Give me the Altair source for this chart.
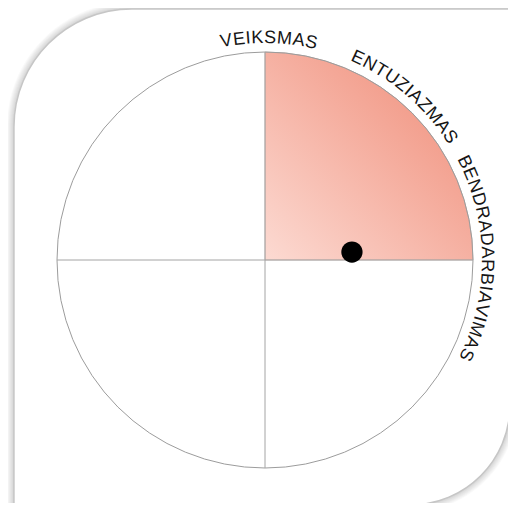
import math
import altair as alt
import pandas as pd

# ---- data ----
LABELS = ["VEIKSMAS", "ENTUZIAZMAS", "BENDRADARBIAVIMAS"]
LABEL_CENTER_DEG = [1.0, 40.5, 89.5]      # angular centre of each curved label
QUADRANT_START = [0]                      # filled sector (degrees, clockwise from north)
QUADRANT_END = [90]
CIRCLE_RADIUS = [100]
DOT_X = [41.8]
DOT_Y = [3.8]

# ---- geometry / style constants ----
W, H = 500, 495
PX = 2.08                 # pixels per unit
CX_PX, CY_PX = 257, 252   # circle centre inside the canvas
X_DOMAIN = [-CX_PX / PX, (W - CX_PX) / PX]
Y_DOMAIN = [-(H - CY_PX) / PX, CY_PX / PX]
TEXT_R_PX = 217
FONT_SIZE = 18
TRACK = 0.5
EM = {"A": .667, "B": .667, "D": .722, "E": .667, "I": .278, "K": .667,
      "M": .833, "N": .722, "R": .722, "S": .667, "T": .611, "U": .722,
      "V": .667, "Z": .611}

xs = alt.Scale(domain=X_DOMAIN, nice=False, zero=False)
ys = alt.Scale(domain=Y_DOMAIN, nice=False, zero=False)
ts = alt.Scale(domain=[0, 360], range=[0, 2 * math.pi], zero=True, nice=False)
rs = alt.Scale(type="linear", domain=[0, 100], range=[0, 100 * PX], zero=True, nice=False)

X = lambda f: alt.X(f, type="quantitative", scale=xs, axis=None)
Y = lambda f: alt.Y(f, type="quantitative", scale=ys, axis=None)

# ---- card with shadow ----
card = dict(x=-120.7, x2=117.8, y=120.7, y2=-117.8)
layers = []
for d in range(1, 8):
    u = d / PX
    sdf = pd.DataFrame([dict(x=card["x"] - u, x2=card["x2"] + u,
                             y=card["y"] + u, y2=card["y2"] - u)])
    layers.append(
        alt.Chart(sdf).mark_rect(color="#000000", opacity=0.022,
                                 cornerRadiusTopLeft=118 + d,
                                 cornerRadiusBottomRight=100 + d)
        .encode(x=X("x"), x2="x2", y=Y("y"), y2="y2")
    )
cdf = pd.DataFrame([card])
layers.append(
    alt.Chart(cdf).mark_rect(color="#ffffff", stroke="#c6c6c6", strokeWidth=1.5,
                             cornerRadiusTopLeft=118, cornerRadiusBottomRight=100)
    .encode(x=X("x"), x2="x2", y=Y("y"), y2="y2")
)

# ---- filled quadrant ----
qdf = pd.DataFrame({"cx": [0], "cy": [0], "t0": QUADRANT_START, "t1": QUADRANT_END,
                    "r0": [0], "r1": CIRCLE_RADIUS})
grad = {"gradient": "linear", "x1": 0, "y1": 1, "x2": 1, "y2": 0,
        "stops": [{"offset": 0, "color": "#fcdad2"},
                  {"offset": 1, "color": "#ef8873"}]}
layers.append(
    alt.Chart(qdf).mark_arc(fill=grad, stroke="#b9a29c", strokeWidth=0.6)
    .encode(x=X("cx"), y=Y("cy"),
            theta=alt.Theta("t0:Q", scale=ts, stack=None), theta2="t1",
            radius=alt.Radius("r1:Q", scale=rs), radius2="r0")
)

# ---- circle outline ----
odf = pd.DataFrame({"cx": [0], "cy": [0], "t0": [0], "t1": [360],
                    "r0": [0], "r1": CIRCLE_RADIUS})
layers.append(
    alt.Chart(odf).mark_arc(fill="transparent", stroke="#9c9c9c", strokeWidth=1)
    .encode(x=X("cx"), y=Y("cy"),
            theta=alt.Theta("t0:Q", scale=ts, stack=None), theta2="t1",
            radius=alt.Radius("r1:Q", scale=rs), radius2="r0")
)

# ---- quadrant lines ----
R = CIRCLE_RADIUS[0]
ldf = pd.DataFrame({"x": [-R, 0], "x2": [R, 0], "y": [0, -R], "y2": [0, R]})
layers.append(
    alt.Chart(ldf).mark_rule(color="#a4a4a4", strokeWidth=1)
    .encode(x=X("x"), x2="x2", y=Y("y"), y2="y2")
)

# ---- curved labels (one text mark per character) ----
rows = []
for lab, cdeg in zip(LABELS, LABEL_CENTER_DEG):
    widths = [EM[c] * FONT_SIZE for c in lab]
    total = sum(widths) + TRACK * (len(lab) - 1)
    start = math.radians(cdeg) - total / (2 * TEXT_R_PX)
    cum = 0.0
    for c, w in zip(lab, widths):
        a = start + (cum + w / 2) / TEXT_R_PX
        deg = math.degrees(a)
        rows.append({"ch": c, "cx": 0, "cy": 0, "t": deg, "ang": deg % 360,
                     "r": TEXT_R_PX / PX})
        cum += w + TRACK
tdf = pd.DataFrame(rows)
layers.append(
    alt.Chart(tdf).mark_text(font="Liberation Sans", fontSize=FONT_SIZE,
                             color="#151515", align="center", baseline="alphabetic")
    .encode(x=X("cx"), y=Y("cy"),
            theta=alt.Theta("t:Q", scale=ts, stack=None),
            radius=alt.Radius("r:Q", scale=rs),
            angle=alt.Angle("ang:Q", scale=None),
            text="ch:N")
)

# ---- dot ----
ddf = pd.DataFrame({"x": DOT_X, "y": DOT_Y})
layers.append(
    alt.Chart(ddf).mark_circle(color="#000000", opacity=1, size=452)
    .encode(x=X("x"), y=Y("y"))
)

chart = (
    alt.layer(*layers)
    .properties(width=W, height=H, autosize=alt.AutoSizeParams(type="none"), padding=0)
    .configure_view(strokeWidth=0)
)
chart.save("out.html", embed_options={"renderer": "svg", "actions": False})
